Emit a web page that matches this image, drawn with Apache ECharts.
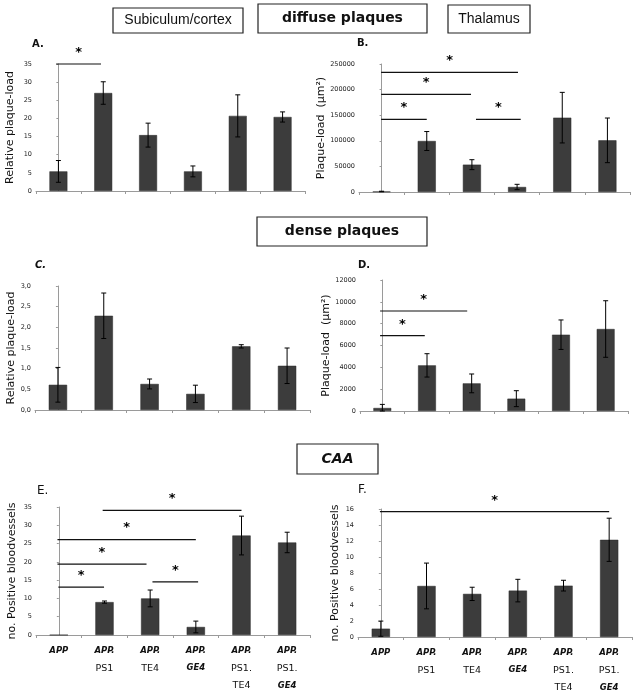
<!DOCTYPE html>
<html><head><meta charset="utf-8">
<script src="https://cdn.jsdelivr.net/npm/echarts@6/dist/echarts.min.js"></script>
<style>html,body{margin:0;padding:0;background:#fff}#c{width:640px;height:695px}</style>
</head><body><div id="c"></div>
<script>
// ---- data ----
const categories = ['APP','APP.\nPS1','APP.\nTE4','APP.\nGE4','APP.\nPS1.\nTE4','APP.\nPS1.\nGE4'];

const aMean = [5.4, 27.0, 15.4, 5.4, 20.7, 20.4];
const aErr  = [3.0, 3.1, 3.3, 1.5, 5.8, 1.4];
const aSig  = [[-0.05, 0.95, 35]];

const bMean = [1000, 99600, 53400, 9800, 145200, 100900];
const bErr  = [500, 18500, 9700, 5200, 49400, 43600];
const bSig  = [[-0.01, 3.02, 233700], [-0.01, 1.98, 190700], [-0.01, 1.0, 141900], [2.09, 3.08, 141900]];

const cMean = [0.61, 2.28, 0.63, 0.39, 1.54, 1.07];
const cErr  = [0.42, 0.55, 0.12, 0.21, 0.04, 0.43];
const cSig  = [];

const dMean = [275, 4180, 2530, 1130, 6990, 7510];
const dErr  = [330, 1070, 860, 730, 1350, 2590];
const dSig  = [[-0.05, 1.9, 9160], [-0.05, 0.95, 6900]];

const eMean = [0, 9.0, 10.0, 2.2, 27.2, 25.3];
const eErr  = [0, 0.3, 2.3, 1.6, 5.3, 2.8];
const eSig  = [[0.96, 4.0, 34.1], [-0.03, 3.0, 26.1], [-0.03, 1.92, 19.4], [-0.01, 0.99, 13.1], [2.05, 3.05, 14.5]];

const fMean = [1.04, 6.38, 5.39, 5.80, 6.42, 12.15];
const fErr  = [0.95, 2.86, 0.83, 1.41, 0.67, 2.7];
const fSig  = [[-0.02, 5.0, 15.67]];

const yTicks = {
  A: {max: 35, interval: 5},
  B: {max: 250000, interval: 50000},
  C: {max: 3, interval: 0.5},
  D: {max: 12000, interval: 2000},
  E: {max: 35, interval: 5},
  F: {max: 16, interval: 2}
};

// ---- layout ----
const panels = [
  {id:'A', mean:aMean, err:aErr, sig:aSig, grid:{left:36, top:64, width:269, height:127}, name:'Relative plaque-load', nameGap:20, labels:false},
  {id:'B', mean:bMean, err:bErr, sig:bSig, grid:{left:359, top:64, width:271, height:128}, name:'Plaque-load  (μm²)', nameGap:32, labels:false},
  {id:'C', mean:cMean, err:cErr, sig:cSig, grid:{left:35, top:286, width:275, height:124}, name:'Relative plaque-load', nameGap:18, labels:false, comma:true},
  {id:'D', mean:dMean, err:dErr, sig:dSig, grid:{left:360, top:280, width:268, height:131}, name:'Plaque-load  (μm²)', nameGap:26, labels:false},
  {id:'E', mean:eMean, err:eErr, sig:eSig, grid:{left:36, top:507, width:274, height:128}, name:'no. Positive bloodvessels', nameGap:18, labels:true},
  {id:'F', mean:fMean, err:fErr, sig:fSig, grid:{left:358, top:509, width:274, height:128}, name:'no. Positive bloodvessels', nameGap:17, labels:true}
];

const FONT = 'DejaVu Sans';
const grids = [], xAxes = [], yAxes = [], series = [];

panels.forEach((p, i) => {
  grids.push(p.grid);
  xAxes.push({
    type:'category', gridIndex:i, data:categories,
    axisLine:{lineStyle:{color:'#9a9a9a', width:1}},
    axisTick:{show:true, length:3, lineStyle:{color:'#9a9a9a'}},
    axisLabel: p.labels ? {
      show:true, margin:7, interval:0,
      formatter: v => v.split('\n').map(s => (/APP|GE4/.test(s) ? '{i|' + s + '}' : '{n|' + s + '}')).join('\n'),
      rich:{
        i:{fontFamily:FONT, fontStyle:'italic', fontWeight:'bold', fontSize:8.5, lineHeight:17.5, color:'#111'},
        n:{fontFamily:FONT, fontSize:9.5, lineHeight:17.5, color:'#111'}
      }
    } : {show:false}
  });
  xAxes.push({type:'value', gridIndex:i, min:-0.5, max:5.5, show:false});
  const t = yTicks[p.id];
  yAxes.push({
    type:'value', gridIndex:i, min:0, max:t.max, interval:t.interval,
    name:p.name, nameLocation:'middle', nameGap:p.nameGap,
    nameTextStyle:{fontFamily:FONT, fontSize:11, color:'#111'},
    splitLine:{show:false},
    axisLine:{show:true, lineStyle:{color:'#9a9a9a'}},
    axisTick:{show:true, length:2, lineStyle:{color:'#9a9a9a'}},
    axisLabel:{fontFamily:FONT, fontSize:6.5, color:'#222', margin:4,
      formatter: p.comma ? (v => v.toFixed(1).replace('.', ',')) : (v => String(v))}
  });
  series.push({
    type:'bar', xAxisIndex:2*i, yAxisIndex:i, data:p.mean, barWidth:'40%',
    itemStyle:{color:'#3c3c3c', borderColor:'#2a2a2a', borderWidth:0.5}
  });
  series.push({
    type:'custom', xAxisIndex:2*i, yAxisIndex:i,
    data:p.mean.map((m, k) => [k, m, p.err[k]]),
    encode:{x:0, y:1},
    z:5,
    renderItem:(params, api) => {
      const x = api.value(0), m = api.value(1), e = api.value(2);
      if (!e) return null;
      const top = api.coord([x, m + e]), bot = api.coord([x, Math.max(0, m - e)]);
      const cap = 2.5, st = {stroke:'#000', lineWidth:1};
      return {type:'group', children:[
        {type:'line', shape:{x1:top[0], y1:top[1], x2:bot[0], y2:bot[1]}, style:st},
        {type:'line', shape:{x1:top[0]-cap, y1:top[1], x2:top[0]+cap, y2:top[1]}, style:st},
        {type:'line', shape:{x1:bot[0]-cap, y1:bot[1], x2:bot[0]+cap, y2:bot[1]}, style:st}
      ]};
    }
  });
  if (p.sig.length) {
    series.push({
      type:'custom', xAxisIndex:2*i+1, yAxisIndex:i, data:p.sig,
      encode:{x:[0,1], y:2}, z:6, clip:false,
      renderItem:(params, api) => {
        const a = api.coord([api.value(0), api.value(2)]);
        const b = api.coord([api.value(1), api.value(2)]);
        return {type:'group', children:[
          {type:'line', shape:{x1:a[0], y1:a[1], x2:b[0], y2:b[1]}, style:{stroke:'#111', lineWidth:1.2}},
          {type:'text', x:(a[0]+b[0])/2, y:a[1]-5, style:{text:'*', fontFamily:FONT, fontWeight:'bold', fontSize:13, fill:'#000', align:'center', verticalAlign:'bottom'}}
        ]};
      }
    });
  }
});

const titles = [
  {text:'A.', left:32, top:39, fs:10, style:'normal'},
  {text:'B.', left:357, top:38, fs:10, style:'normal'},
  {text:'C.', left:35, top:260, fs:10, style:'italic'},
  {text:'D.', left:358, top:260, fs:10, style:'normal'},
  {text:'E.', left:37, top:485, fs:12, style:'normal', weight:'normal'},
  {text:'F.', left:358, top:484, fs:12, style:'normal', weight:'normal'}
].map(t => ({text:t.text, left:t.left, top:t.top, padding:0,
  textStyle:{fontFamily:FONT, fontSize:t.fs, fontWeight:t.weight || 'bold', fontStyle:t.style, color:'#111'}}));

function box(x, y, w, h, text, font) {
  return [
    {type:'rect', shape:{x:x, y:y, width:w, height:h}, style:{fill:'#fff', stroke:'#222', lineWidth:1.2}},
    {type:'text', x:x + w/2, y:y + h/2, style:Object.assign({text:text, align:'center', verticalAlign:'middle', fill:'#111'}, font)}
  ];
}
const graphics = [].concat(
  box(113, 8, 130, 25, 'Subiculum/cortex', {fontFamily:'Liberation Sans', fontSize:14}),
  box(258, 4, 169, 29, 'diffuse plaques', {fontFamily:FONT, fontSize:14, fontWeight:'bold'}),
  box(448, 5, 82, 28, 'Thalamus', {fontFamily:'Liberation Sans', fontSize:14}),
  box(257, 217, 170, 29, 'dense plaques', {fontFamily:FONT, fontSize:14, fontWeight:'bold'}),
  box(297, 444, 81, 30, 'CAA', {fontFamily:FONT, fontSize:14, fontWeight:'bold', fontStyle:'italic'})
);

const chart = echarts.init(document.getElementById('c'), null, {renderer:'canvas'});
chart.setOption({
  animation:false,
  backgroundColor:'#fff',
  title:titles,
  grid:grids, xAxis:xAxes, yAxis:yAxes, series:series,
  graphic:graphics
});
</script>
</body></html>
